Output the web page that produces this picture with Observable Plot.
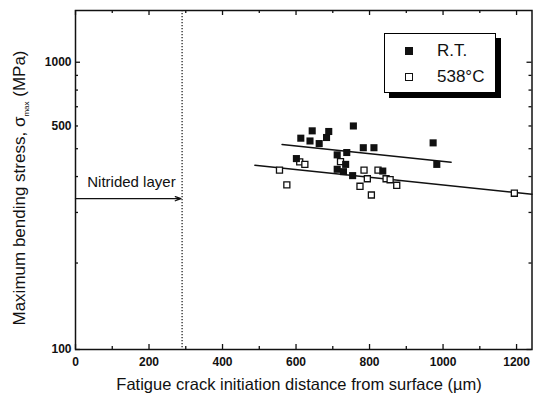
<!DOCTYPE html>
<html>
<head>
<meta charset="utf-8">
<script src="https://cdn.jsdelivr.net/npm/d3@7"></script>
<script src="https://cdn.jsdelivr.net/npm/@observablehq/plot@0.6"></script>
<style>
  html, body { margin: 0; padding: 0; background: #fff; }
  #wrap { position: relative; width: 533px; height: 401px; font-family: "Liberation Sans", Arial, sans-serif; }
  #legend { position: absolute; left: 384px; top: 33px; width: 110px; height: 58px; border: 1.5px solid #000; background: #fff; box-shadow: 5px 5px 0 #000; }
  .row { position: absolute; left: 0; height: 20px; display: flex; align-items: center; font-size: 17px; color: #111; }
  .sw { width: 8px; height: 8px; margin-left: 20px; margin-right: 24px; box-sizing: border-box; }
</style>
</head>
<body>
<div id="wrap"></div>
<script>
// ---- data ----
const rtX = [613, 644, 638, 663, 683, 689, 756, 712, 738, 783, 812, 973, 983, 601, 712, 729, 735, 754, 836];
const rtY = [544, 577, 532, 521, 547, 574, 600, 476, 485, 504, 504, 524, 441, 462, 424, 416, 441, 403, 418];
const htX = [555, 575, 610, 624, 721, 785, 794, 774, 805, 823, 845, 856, 874, 1194];
const htY = [421, 374, 450, 441, 451, 421, 393, 370, 345, 421, 393, 390, 373, 350];
const rtFitX = [562, 1022];
const rtFitY = [517, 449];
const htFitX = [488, 1242];
const htFitY = [438, 347];
const xMajorTicks = [0, 200, 400, 600, 800, 1000, 1200];
const xMinorTicks = [100, 300, 500, 700, 900, 1100];
const yMajorTicks = [100, 1000];
const yMinorTicks = [200, 300, 400, 500, 600, 700, 800, 900];
const yTickValues = [100, 600, 1000];
const yTickLabels = ["100", "500", "1000"];
const layerDepth = 290;
const arrowY = 335;
const layerLabel = {x: 32, y: 381, text: "Nitrided layer"};
const seriesNames = ["R.T.", "538°C"];

const rt = rtX.map((x, i) => ({x, y: rtY[i]}));
const ht = htX.map((x, i) => ({x, y: htY[i]}));
const rtFit = rtFitX.map((x, i) => ({x, y: rtFitY[i]}));
const htFit = htFitX.map((x, i) => ({x, y: htFitY[i]}));

const W = 533, H = 401, mL = 75, mR = 1.5, mT = 10, mB = 52;
const pw = W - mL - mR, ph = H - mT - mB;
const maj = 5, mnr = 3;

const chart = Plot.plot({
  width: W, height: H,
  marginLeft: mL, marginRight: mR, marginTop: mT, marginBottom: mB,
  style: {fontFamily: '"Liberation Sans", Arial, sans-serif', fontSize: "12px", color: "#111", background: "#fff"},
  x: {domain: [0, 1242], axis: null},
  y: {type: "log", domain: [100, 1514], axis: null},
  marks: [
    // ticks (inward, mirrored)
    Plot.tickX(xMajorTicks, {x: d => d, insetTop: ph - maj, stroke: "#111", strokeWidth: 1.3}),
    Plot.tickX(xMinorTicks, {x: d => d, insetTop: ph - mnr, stroke: "#111", strokeWidth: 1.3}),
    Plot.tickX(xMajorTicks, {x: d => d, insetBottom: ph - maj, stroke: "#111", strokeWidth: 1.3}),
    Plot.tickX(xMinorTicks, {x: d => d, insetBottom: ph - mnr, stroke: "#111", strokeWidth: 1.3}),
    Plot.tickY(yMajorTicks, {y: d => d, insetRight: pw - maj, stroke: "#111", strokeWidth: 1.3}),
    Plot.tickY(yMinorTicks, {y: d => d, insetRight: pw - mnr, stroke: "#111", strokeWidth: 1.3}),
    Plot.tickY(yMajorTicks, {y: d => d, insetLeft: pw - maj, stroke: "#111", strokeWidth: 1.3}),
    Plot.tickY(yMinorTicks, {y: d => d, insetLeft: pw - mnr, stroke: "#111", strokeWidth: 1.3}),
    Plot.axisX({ticks: xMajorTicks, tickSize: 0, tickPadding: 8, fontWeight: "bold", fontSize: 12,
      tickFormat: d => String(d), label: null}),
    Plot.axisY({ticks: yTickValues, tickSize: 0, tickPadding: 4, fontWeight: "bold", fontSize: 12,
      tickFormat: d => yTickLabels[yTickValues.indexOf(d)], label: null}),
    // nitrided layer boundary
    Plot.ruleX([layerDepth], {stroke: "#111", strokeWidth: 1.2, strokeDasharray: "1.2,1.8"}),
    Plot.arrow([{x1: 0, x2: layerDepth - 3, y: arrowY}], {x1: "x1", x2: "x2", y1: "y", y2: "y",
      stroke: "#111", strokeWidth: 1.3, headLength: 7, headAngle: 40, bend: 0}),
    Plot.text([layerLabel], {x: "x", y: "y", text: "text", textAnchor: "start", fontSize: 15, fill: "#111"}),
    // fit lines
    Plot.line(rtFit, {x: "x", y: "y", stroke: "#111", strokeWidth: 1.5}),
    Plot.line(htFit, {x: "x", y: "y", stroke: "#111", strokeWidth: 1.5}),
    // points
    Plot.dot(ht, {x: "x", y: "y", symbol: "square", r: 3.4, fill: "#fff", stroke: "#111", strokeWidth: 1.3}),
    Plot.dot(rt, {x: "x", y: "y", symbol: "square", r: 4, fill: "#111", stroke: "none"}),
    Plot.frame({stroke: "#111", strokeWidth: 1.5})
  ]
});

const wrap = document.getElementById("wrap");
wrap.appendChild(chart);

// axis titles
const svg = d3.select(chart);
svg.append("text")
  .attr("x", 299).attr("y", 390)
  .attr("text-anchor", "middle")
  .attr("font-size", 16.5).attr("fill", "#111")
  .text("Fatigue crack initiation distance from surface (\u00b5m)");
const yt = svg.append("text")
  .attr("transform", "translate(25,188) rotate(-90)")
  .attr("text-anchor", "middle")
  .attr("font-size", 17).attr("fill", "#111");
yt.append("tspan").text("Maximum bending stress, \u03c3");
yt.append("tspan").attr("font-size", 8).attr("dy", 4).text("max");
yt.append("tspan").attr("dy", -4).text(" (MPa)");

// legend
const lg = document.createElement("div");
lg.id = "legend";
lg.innerHTML =
  `<div class="row" style="top:7px"><div class="sw" style="background:#111"></div><span>${seriesNames[0]}</span></div>` +
  `<div class="row" style="top:33px"><div class="sw" style="border:1.5px solid #111;background:#fff"></div><span>${seriesNames[1]}</span></div>`;
wrap.appendChild(lg);
</script>
</body>
</html>
